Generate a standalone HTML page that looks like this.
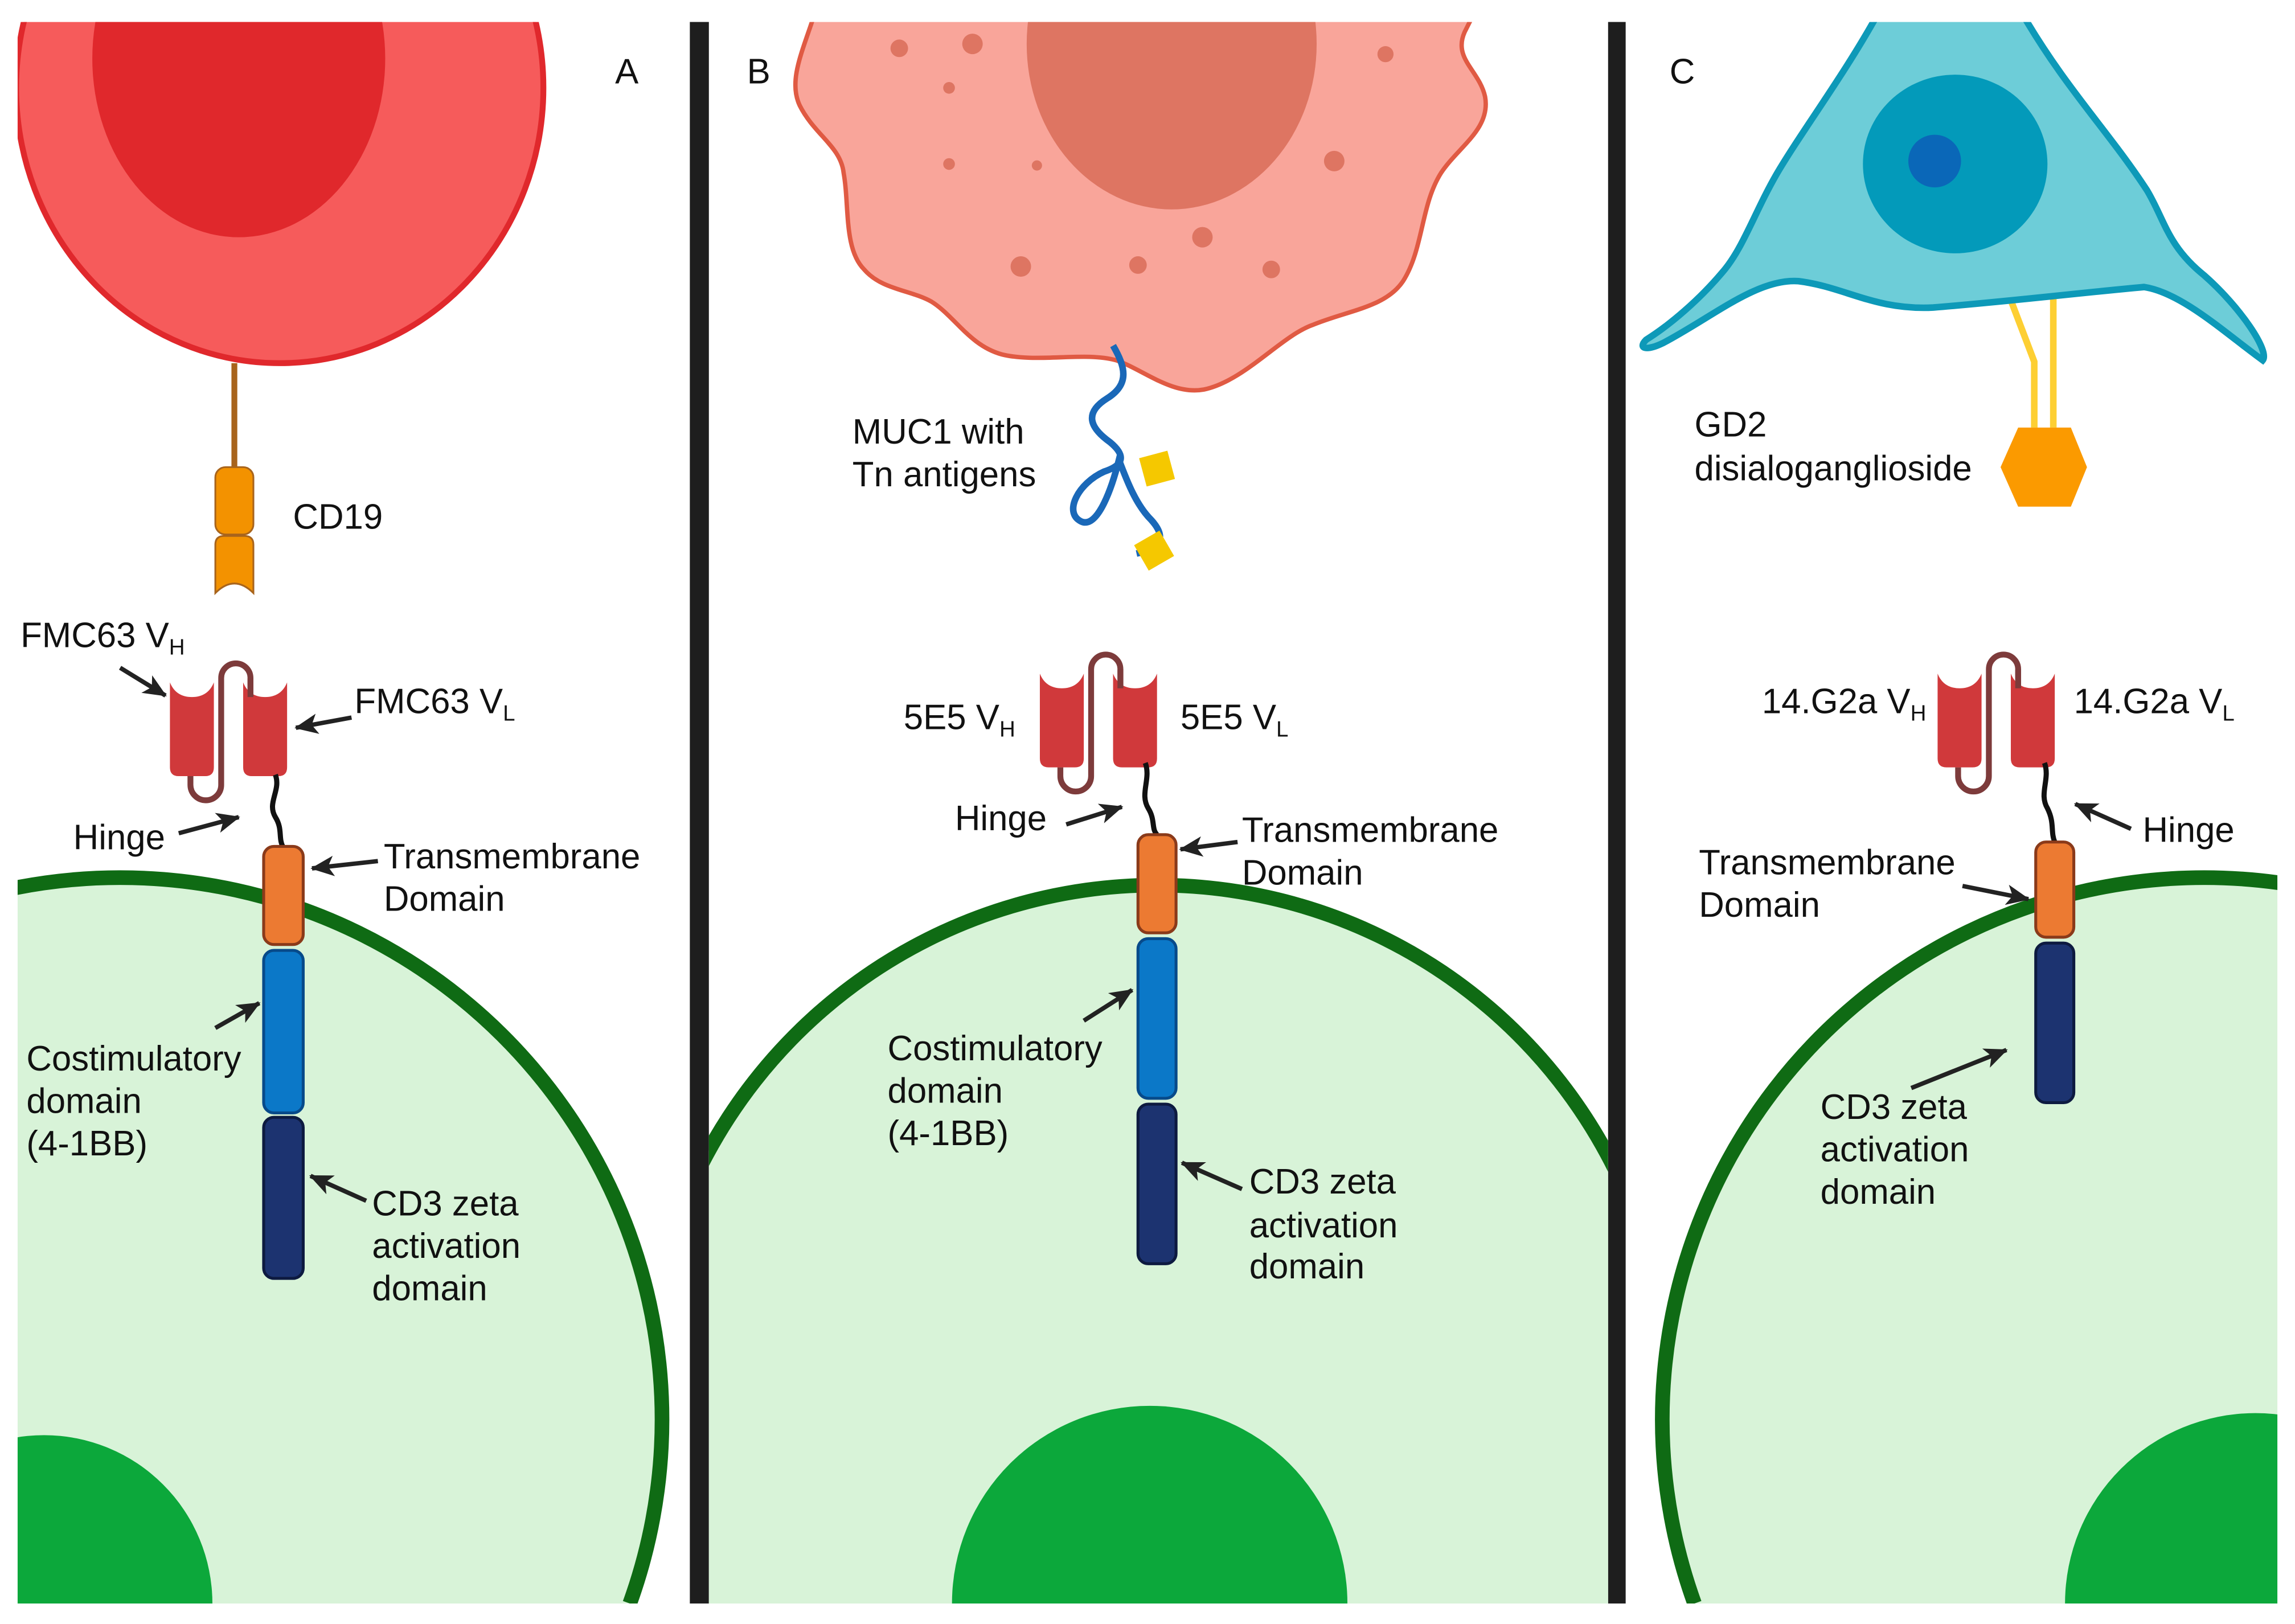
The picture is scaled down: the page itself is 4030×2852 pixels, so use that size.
<!DOCTYPE html>
<html><head><meta charset="utf-8"><style>
html,body{margin:0;padding:0;background:#fff;width:4030px;height:2852px;overflow:hidden;position:relative;}
svg{display:block;position:absolute;left:0;top:0;overflow:hidden;}
.frame{position:absolute;left:0;top:0;width:4030px;height:2852px;overflow:hidden;}
text{font-family:"Liberation Sans",Arial,sans-serif;font-size:24px;fill:#111;}
</style></head><body><div class="frame">
<svg width="4030" height="2852" viewBox="0 0 1567 1109" xmlns="http://www.w3.org/2000/svg">
<defs>
<clipPath id="cA"><rect x="12" y="15" width="459" height="1080"/></clipPath>
<clipPath id="cB"><rect x="484" y="15" width="614" height="1080"/></clipPath>
<clipPath id="cC"><rect x="1110" y="15" width="445" height="1080"/></clipPath>
<clipPath id="cT"><rect x="1110" y="15" width="457" height="300"/></clipPath>
<marker id="ah" markerUnits="userSpaceOnUse" markerWidth="16" markerHeight="14" refX="15" refY="7" orient="auto">
<path d="M0,0 L16,7 L0,14 L4,7 Z" fill="#222"/></marker>
<g id="scfv">
<path d="M14,64 L14,70 A10.5,10.5 0 0 0 35,70 L35,-3 A10,10 0 0 1 55,-3 L55,10" fill="none" stroke="#7d3b3b" stroke-width="4"/>
<path d="M0,0 Q4,10 15,10 Q26,10 30,0 L30,58 Q30,64 24,64 L6,64 Q0,64 0,58 Z" fill="#d0393b"/>
<path d="M50,0 Q54,10 65,10 Q76,10 80,0 L80,58 Q80,64 74,64 L56,64 Q50,64 50,58 Z" fill="#d0393b"/>
<path d="M55,-3 L55,10" stroke="#7d3b3b" stroke-width="4"/>
</g>
</defs>
<rect width="1567" height="1109" fill="#fff"/>

<g clip-path="url(#cA)">
<path d="M430,1095 A370,370 0 1 0 -266,1095 Z" fill="#d8f3d8"/>
<path d="M430,1095 A370,370 0 1 0 -266,1095" fill="none" stroke="#0f6b14" stroke-width="10"/>
<path d="M-85,1095 A115,115 0 0 1 145,1095 Z" fill="#0ca83b"/>
<ellipse cx="191" cy="60" rx="180" ry="188" fill="#f65b5b" stroke="#e0282c" stroke-width="4"/>
<ellipse cx="163" cy="40" rx="100" ry="122" fill="#e0282c"/>
</g>
<line x1="160" y1="248" x2="160" y2="320" stroke="#a8641c" stroke-width="4"/>
<rect x="147" y="319" width="26" height="46" rx="7" fill="#f39200" stroke="#a8641c" stroke-width="1.2"/>
<path d="M147,372 Q147,366 153,366 L167,366 Q173,366 173,372 L173,405 Q160,392 147,405 Z" fill="#f39200" stroke="#a8641c" stroke-width="1.2"/>
<text x="200" y="361">CD19</text>
<text x="420" y="57" font-size="25">A</text>

<use href="#scfv" x="116" y="466"/>
<path d="M188,529 C192,540 182,548 188,558 C193,566 190,572 193,578" fill="none" stroke="#111" stroke-width="3.5"/>
<rect x="180" y="578" width="27" height="67" rx="7" fill="#ec7a32" stroke="#8a3a1a" stroke-width="2"/>
<rect x="180" y="649" width="27" height="111" rx="7" fill="#0b78c8" stroke="#074a8a" stroke-width="2"/>
<rect x="180" y="763" width="27" height="110" rx="7" fill="#1c3370" stroke="#0d1a40" stroke-width="2"/>
<text x="14" y="442">FMC63 V<tspan font-size="15" dy="5">H</tspan></text>
<text x="242" y="487">FMC63 V<tspan font-size="15" dy="5">L</tspan></text>
<text x="50" y="580">Hinge</text>
<text x="262" y="593">Transmembrane</text><text x="262" y="622">Domain</text>
<text x="18" y="731">Costimulatory</text><text x="18" y="760">domain</text><text x="18" y="789">(4-1BB)</text>
<text x="254" y="830">CD3 zeta</text><text x="254" y="859">activation</text><text x="254" y="888">domain</text>
<g stroke="#222" stroke-width="3" marker-end="url(#ah)">
<line x1="82" y1="456" x2="113" y2="475"/>
<line x1="240" y1="490" x2="202" y2="497"/>
<line x1="122" y1="569" x2="163" y2="558"/>
<line x1="258" y1="588" x2="213" y2="593"/>
<line x1="147" y1="702" x2="177" y2="685"/>
<line x1="250" y1="820" x2="212" y2="803"/>
</g>

<rect x="471" y="15" width="13" height="1080" fill="#1e1e1e"/>
<rect x="1098" y="15" width="12" height="1080" fill="#1e1e1e"/>

<g clip-path="url(#cB)">
<path d="M1109,1095 A349,349 0 1 0 471,1095 Z" fill="#d8f3d8"/>
<path d="M1109,1095 A349,349 0 1 0 471,1095" fill="none" stroke="#0f6b14" stroke-width="10"/>
<path d="M650,1095 A135,135 0 0 1 920,1095 Z" fill="#0ca83b"/>
<path d="M556,10 C548,35 538,55 546,72 C556,92 574,100 576,118 C580,140 576,170 590,184 C602,198 622,198 636,206 C652,216 662,236 684,242 C708,248 740,240 762,246 C780,252 800,270 822,266 C850,260 874,230 896,222 C920,212 946,210 958,192 C972,170 970,140 984,118 C996,100 1018,88 1014,66 C1010,48 992,40 1000,22 L1006,10 Z" fill="#f9a59a" stroke="#e05a43" stroke-width="3"/>
<ellipse cx="800" cy="30" rx="99" ry="113" fill="#de7562"/>
<g fill="#de7562">
<circle cx="614" cy="33" r="6"/><circle cx="664" cy="30" r="7"/><circle cx="648" cy="60" r="4"/>
<circle cx="648" cy="112" r="4"/><circle cx="708" cy="113" r="3.5"/><circle cx="946" cy="37" r="5.5"/>
<circle cx="911" cy="110" r="7"/><circle cx="821" cy="162" r="7"/><circle cx="697" cy="182" r="7"/>
<circle cx="777" cy="181" r="6"/><circle cx="868" cy="184" r="6"/>
</g>
</g>
<path d="M760,236 C768,250 772,262 756,272 C740,282 744,292 758,302 C770,312 766,318 754,322 C736,330 726,350 738,356 C750,362 760,330 764,314 C770,330 776,345 786,355 C796,366 794,374 776,378" fill="none" stroke="#1a68b8" stroke-width="4.5"/>
<rect x="780" y="310" width="20" height="20" fill="#f5c800" transform="rotate(-15 790 320)"/>
<rect x="778" y="366" width="20" height="20" fill="#f5c800" transform="rotate(-30 788 376)"/>
<text x="510" y="57" font-size="25">B</text>
<text x="582" y="303">MUC1 with</text><text x="582" y="332">Tn antigens</text>

<use href="#scfv" x="710" y="460"/>
<path d="M782,521 C786,532 778,542 784,552 C789,560 786,566 790,570" fill="none" stroke="#111" stroke-width="3.5"/>
<rect x="777" y="570" width="26" height="67" rx="7" fill="#ec7a32" stroke="#8a3a1a" stroke-width="2"/>
<rect x="777" y="641" width="26" height="109" rx="7" fill="#0b78c8" stroke="#074a8a" stroke-width="2"/>
<rect x="777" y="754" width="26" height="109" rx="7" fill="#1c3370" stroke="#0d1a40" stroke-width="2"/>
<text x="617" y="498">5E5 V<tspan font-size="15" dy="5">H</tspan></text>
<text x="806" y="498">5E5 V<tspan font-size="15" dy="5">L</tspan></text>
<text x="652" y="567">Hinge</text>
<text x="848" y="575">Transmembrane</text><text x="848" y="604">Domain</text>
<text x="606" y="724">Costimulatory</text><text x="606" y="753">domain</text><text x="606" y="782">(4-1BB)</text>
<text x="853" y="815">CD3 zeta</text><text x="853" y="845">activation</text><text x="853" y="873">domain</text>
<g stroke="#222" stroke-width="3" marker-end="url(#ah)">
<line x1="728" y1="563" x2="766" y2="551"/>
<line x1="845" y1="575" x2="806" y2="580"/>
<line x1="740" y1="697" x2="773" y2="676"/>
<line x1="848" y1="812" x2="807" y2="794"/>
</g>

<g clip-path="url(#cC)">
<path d="M1853,1095 A370,370 0 1 0 1157,1095 Z" fill="#d8f3d8"/>
<path d="M1853,1095 A370,370 0 1 0 1157,1095" fill="none" stroke="#0f6b14" stroke-width="10"/>
<path d="M1410,1095 A130,130 0 0 1 1670,1095 Z" fill="#0ca83b"/>
</g>
<path d="M1373,205 L1389,247 L1389,292 M1402,204 L1402,292" fill="none" stroke="#fdcf33" stroke-width="4.5"/>
<g clip-path="url(#cT)">
<path d="M1283,8 C1260,50 1230,90 1213,119 C1198,145 1190,170 1176,186 C1160,205 1140,222 1124,232 C1118,238 1124,240 1136,234 C1170,216 1200,190 1228,192 C1260,196 1280,212 1320,210 C1370,206 1420,200 1464,196 C1490,200 1520,228 1545,246 C1550,240 1530,210 1505,188 C1480,168 1478,150 1466,130 C1440,90 1410,60 1380,8 Z" fill="#6dcdd8" stroke="#0d99b8" stroke-width="4.5"/>
</g>
<ellipse cx="1335" cy="112" rx="63" ry="61" fill="#039aba"/>
<ellipse cx="1321" cy="110" rx="18" ry="18" fill="#0a67b8"/>
<polygon points="1378,292 1414,292 1425,319 1414,346 1378,346 1366,319" fill="#fb9a00"/>
<text x="1140" y="57" font-size="25">C</text>
<text x="1157" y="298">GD2</text><text x="1157" y="328">disialoganglioside</text>

<use href="#scfv" x="1323" y="460"/>
<path d="M1396,521 C1400,532 1392,542 1398,552 C1403,562 1400,568 1403,575" fill="none" stroke="#111" stroke-width="3.5"/>
<rect x="1390" y="575" width="26" height="65" rx="7" fill="#ec7a32" stroke="#8a3a1a" stroke-width="2"/>
<rect x="1390" y="644" width="26" height="109" rx="7" fill="#1c3370" stroke="#0d1a40" stroke-width="2"/>
<text x="1203" y="487">14.G2a V<tspan font-size="15" dy="5">H</tspan></text>
<text x="1416" y="487">14.G2a V<tspan font-size="15" dy="5">L</tspan></text>
<text x="1463" y="575">Hinge</text>
<text x="1160" y="597">Transmembrane</text><text x="1160" y="626">Domain</text>
<text x="1243" y="764">CD3 zeta</text><text x="1243" y="793">activation</text><text x="1243" y="822">domain</text>
<g stroke="#222" stroke-width="3" marker-end="url(#ah)">
<line x1="1455" y1="566" x2="1417" y2="549"/>
<line x1="1340" y1="605" x2="1385" y2="614"/>
<line x1="1305" y1="743" x2="1370" y2="717"/>
</g>
</svg>
</div></body></html>
